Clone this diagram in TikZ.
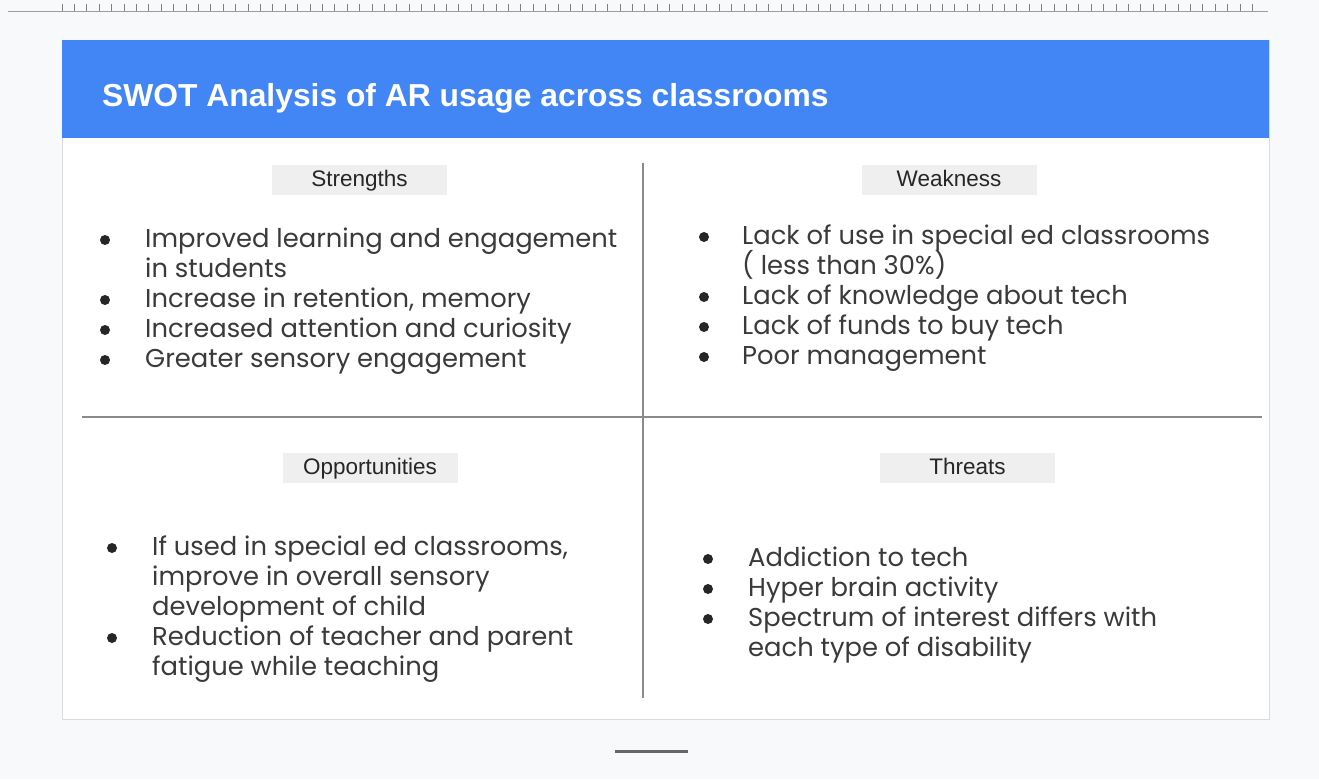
\documentclass[tikz,border=0pt]{standalone}
\usepackage{fontspec}
\setmainfont{Liberation Sans}
\newfontfamily\bodyfont{Poppins}
\definecolor{pagebg}{HTML}{F8F9FA}
\definecolor{headblue}{HTML}{4285F4}
\definecolor{cardline}{HTML}{DADCE0}
\definecolor{divline}{HTML}{8A8A8A}
\definecolor{labelbg}{HTML}{EFEFEF}
\definecolor{bodytext}{HTML}{3A3A3A}
\definecolor{rulercol}{HTML}{9E9E9E}
\begin{document}
\begin{tikzpicture}[x=1pt,y=-1pt,
  labelbox/.style={fill=labelbg, minimum width=175pt, minimum height=30pt, inner sep=0pt, text height=15pt, text depth=2pt, font=\fontsize{22.5}{24}\selectfont, text=black!85},
  itemtext/.style={anchor=base west, inner sep=0pt, text=bodytext, font=\bodyfont\fontsize{25.8}{28}\selectfont},
  bulletdot/.style={circle, fill=black!85, inner sep=0pt, minimum size=10pt},
  divider/.style={draw=divline, line width=1.3pt}]
\useasboundingbox (0,0) rectangle (1319,779);
\fill[pagebg] (0,0) rectangle (1319,779);
% ruler
\draw[rulercol, line width=0.8pt] (8,11) -- (1268,11);
\foreach \i in {0,...,96} {
  \draw[rulercol!80!black, line width=0.7pt] ({62+\i*12.4},4) -- ({62+\i*12.4},11);
}
% card
\node[draw=cardline, fill=white, line width=1pt, minimum width=1207pt, minimum height=679pt, anchor=north west, inner sep=0pt] (card) at (62,40) {};
\fill[headblue] (62,40) rectangle (1269,138);
\node[anchor=base west, inner sep=0pt, text=white, font=\bfseries\fontsize{31.8}{34}\selectfont] (title) at (102,106) {SWOT Analysis of AR usage across classrooms};
% dividers
\coordinate (vtop) at (643,163);
\coordinate (vbot) at (643,698);
\coordinate (hleft) at (82,417);
\coordinate (hright) at (1262,417);
\draw[divider] (vtop) -- (vbot);
\draw[divider] (hleft) -- (hright);
% labels
\node[labelbox] (lS) at (359.5,180) {Strengths};
\node[labelbox] (lW) at (949,180) {Weakness};
\node[labelbox] (lO) at (370,468) {Opportunities};
\node[labelbox] (lT) at (967.5,468) {Threats};
% Strengths
\node[bulletdot] (sb1) at (105,240) {};
\node[itemtext] (s1) at (145,247) {Improved learning and engagement};
\node[itemtext] (s1b) at (145,277) {in students};
\node[bulletdot] (sb2) at (105,300) {};
\node[itemtext] (s2) at (145,307) {Increase in retention, memory};
\node[bulletdot] (sb3) at (105,330) {};
\node[itemtext] (s3) at (145,337) {Increased attention and curiosity};
\node[bulletdot] (sb4) at (105,360) {};
\node[itemtext] (s4) at (145,367) {Greater sensory engagement};
% Weakness
\node[bulletdot] (wb1) at (704,237) {};
\node[itemtext] (w1) at (742,244) {Lack of use in special ed classrooms};
\node[itemtext] (w1b) at (742,274) {( less than 30\%)};
\node[bulletdot] (wb2) at (704,297) {};
\node[itemtext] (w2) at (742,304) {Lack of knowledge about tech};
\node[bulletdot] (wb3) at (704,327) {};
\node[itemtext] (w3) at (742,334) {Lack of funds to buy tech};
\node[bulletdot] (wb4) at (704,357) {};
\node[itemtext] (w4) at (742,364) {Poor management};
% Opportunities
\node[bulletdot] (ob1) at (112,548) {};
\node[itemtext] (o1) at (152,555) {If used in special ed classrooms,};
\node[itemtext] (o1b) at (152,585) {improve in overall sensory};
\node[itemtext] (o1c) at (152,615) {development of child};
\node[bulletdot] (ob2) at (112,638) {};
\node[itemtext] (o2) at (152,645) {Reduction of teacher and parent};
\node[itemtext] (o2b) at (152,675) {fatigue while teaching};
% Threats
\node[bulletdot] (tb1) at (708,559) {};
\node[itemtext] (t1) at (748,566) {Addiction to tech};
\node[bulletdot] (tb2) at (708,589) {};
\node[itemtext] (t2) at (748,596) {Hyper brain activity};
\node[bulletdot] (tb3) at (708,619) {};
\node[itemtext] (t3) at (748,626) {Spectrum of interest differs with};
\node[itemtext] (t3b) at (748,656) {each type of disability};
% bottom bar
\coordinate (barl) at (615,751);
\coordinate (barr) at (688,751);
\draw[black!60, line width=3pt] (barl) -- (barr);
\end{tikzpicture}
\end{document}
